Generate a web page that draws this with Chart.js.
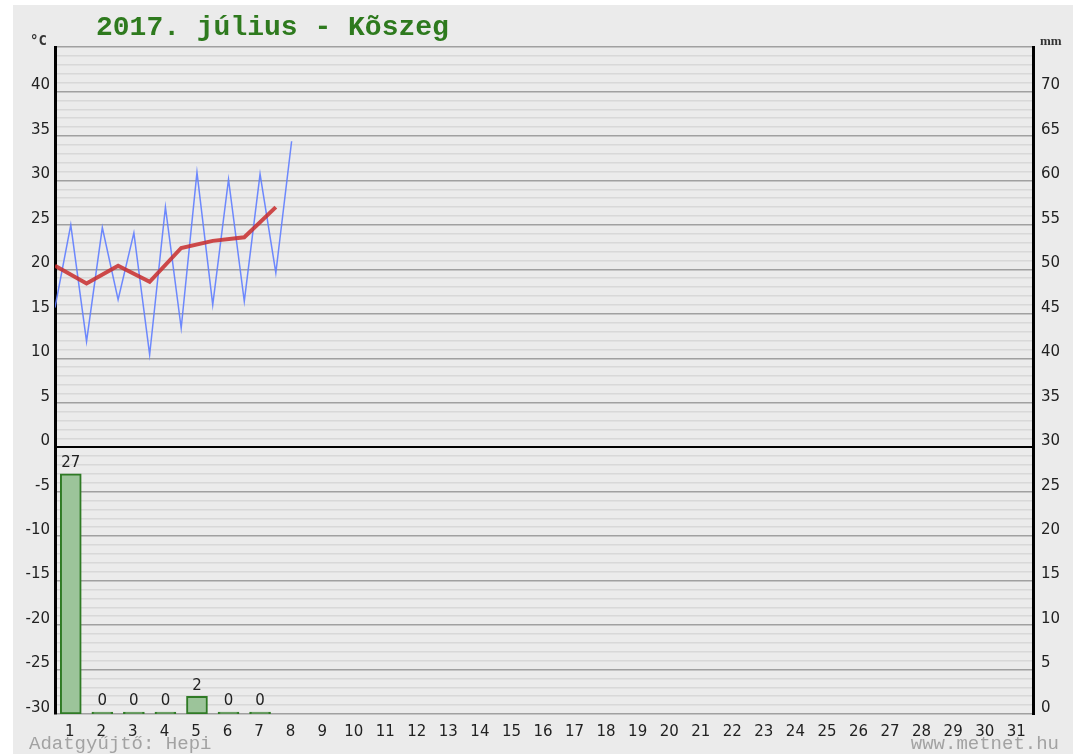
<!DOCTYPE html>
<html>
<head>
<meta charset="utf-8">
<script src="https://cdn.jsdelivr.net/npm/chart.js@4.4.1/dist/chart.umd.min.js"></script>
<style>
html,body{margin:0;padding:0;background:#fff;}
#wrap{position:relative;width:1080px;height:754px;}
canvas{display:block;}
</style>
</head>
<body>
<div id="wrap"><canvas id="c" width="1080" height="754"></canvas></div>
<script>
const chartTitle = '2017. július - Kõszeg';
const footerLeft = 'Adatgyűjtő: Hepi';
const footerRight = 'www.metnet.hu';
const days = [1,2,3,4,5,6,7,8,9,10,11,12,13,14,15,16,17,18,19,20,21,22,23,24,25,26,27,28,29,30,31];
const tempTickLabels = [-30,-25,-20,-15,-10,-5,0,5,10,15,20,25,30,35,40];
const mmTickLabels = [0,5,10,15,20,25,30,35,40,45,50,55,60,65,70];
const minTemp  = [15.7, 11.9, 16.6, 10.4, 13.4, 16.0, 16.4, 19.6];
const maxTemp  = [25.0, 24.7, 24.1, 27.0, 30.9, 30.1, 30.7, 34.4];
const meanTemp = [20.4, 18.4, 20.4, 18.6, 22.4, 23.2, 23.6, 27.0];
const precip   = [27, 0, 0, 0, 2, 0, 0];

// build datasets from arrays
const minMaxPoints = [];
minTemp.forEach((v, i) => {
  minMaxPoints.push({x: days[i] - 0.5, y: v});
  minMaxPoints.push({x: days[i], y: maxTemp[i]});
});
const meanPoints = meanTemp.map((v, i) => ({x: days[i] - 0.5, y: v}));
const precipPoints = precip.map((v, i) => ({x: days[i], y: v}));

const tickFont = {family: 'DejaVu Sans', size: 15};

const decor = {
  id: 'decor',
  beforeDraw(chart) {
    const ctx = chart.ctx;
    ctx.save();
    ctx.fillStyle = '#ffffff';
    ctx.fillRect(0, 0, chart.width, chart.height);
    ctx.fillStyle = '#ebebeb';
    ctx.fillRect(13, 5, 1060, 749);
    ctx.restore();
  },
  afterDatasetsDraw(chart) {
    const ctx = chart.ctx;
    const meta = chart.getDatasetMeta(2);
    ctx.save();
    ctx.font = '15px "DejaVu Sans"';
    ctx.fillStyle = '#222';
    ctx.textAlign = 'center';
    ctx.textBaseline = 'bottom';
    meta.data.forEach((el, i) => {
      ctx.fillText(String(precip[i]), el.x, el.y - 3);
    });
    ctx.restore();
  },
  afterDraw(chart) {
    const ctx = chart.ctx;
    ctx.save();
    ctx.fillStyle = '#2e7a1e';
    ctx.font = 'bold 28px "Liberation Mono"';
    ctx.textAlign = 'left';
    ctx.textBaseline = 'alphabetic';
    ctx.fillText(chartTitle, 96, 35);
    ctx.fillStyle = '#333';
    ctx.font = 'bold 14px "DejaVu Sans Mono"';
    ctx.fillText('°C', 30, 45);
    ctx.font = 'bold 13px "Liberation Serif"';
    ctx.fillText('mm', 1040, 45);
    ctx.fillStyle = '#a2a2a2';
    ctx.font = '19px "Liberation Mono"';
    ctx.fillText(footerLeft, 29, 749);
    ctx.textAlign = 'right';
    ctx.fillText(footerRight, 1059, 749);
    ctx.restore();
  }
};

new Chart(document.getElementById('c'), {
  data: {
    datasets: [
      {
        type: 'line', label: 'Napi középhőmérséklet', data: meanPoints,
        xAxisID: 'x', yAxisID: 'y',
        borderColor: 'rgba(200,45,45,0.85)', borderWidth: 4,
        pointRadius: 0, tension: 0, fill: false
      },
      {
        type: 'line', label: 'Min/Max hőmérséklet', data: minMaxPoints,
        xAxisID: 'x', yAxisID: 'y',
        borderColor: 'rgba(95,125,255,0.9)', borderWidth: 1.5,
        pointRadius: 0, tension: 0, fill: false
      },
      {
        type: 'bar', label: 'Csapadék', data: precipPoints,
        xAxisID: 'x', yAxisID: 'y2',
        backgroundColor: '#9cc49a', borderColor: '#2f7a25', borderWidth: 2,
        borderSkipped: false, barThickness: 21, minBarLength: 2
      }
    ]
  },
  options: {
    responsive: false,
    animation: false,
    devicePixelRatio: 1,
    layout: {padding: {top: 47, left: 0, right: 0, bottom: 0}},
    plugins: {legend: {display: false}, tooltip: {enabled: false}, title: {display: false}},
    scales: {
      x: {
        type: 'linear', position: 'bottom', min: 0.5, max: 31.5, offset: false,
        grid: {display: false, offset: false}, border: {display: false},
        afterBuildTicks: (axis) => { axis.ticks = days.map(d => ({value: d})); },
        afterFit: (s) => { s.height = 40; },
        ticks: {font: tickFont, color: '#222', padding: 1, autoSkip: false, maxRotation: 0, labelOffset: -1,
          callback: (v) => String(v)}
      },
      y: {
        type: 'linear', position: 'left', min: -30, max: 45,
        afterFit: (s) => { s.width = 55; },
        grid: {
          drawTicks: false,
          color: (c) => c.tick.value === 0 ? '#000000' : (c.tick.value % 5 === 0 ? '#a0a0a0' : '#d8d8d8'),
          lineWidth: (c) => c.tick.value === 0 ? 2 : 1.5
        },
        border: {color: '#000', width: 3},
        ticks: {stepSize: 1, autoSkip: false, font: tickFont, color: '#222', padding: 5, labelOffset: -6,
          callback: (v) => tempTickLabels.includes(v) ? String(v) : ''}
      },
      y2: {
        type: 'linear', position: 'right', min: 0, max: 75,
        afterFit: (s) => { s.width = 47; },
        grid: {display: false, drawTicks: false},
        border: {color: '#000', width: 3},
        ticks: {stepSize: 5, autoSkip: false, font: tickFont, color: '#222', padding: 8, labelOffset: -6,
          callback: (v) => mmTickLabels.includes(v) ? String(v) : ''}
      }
    }
  },
  plugins: [decor]
});
</script>
</body>
</html>
